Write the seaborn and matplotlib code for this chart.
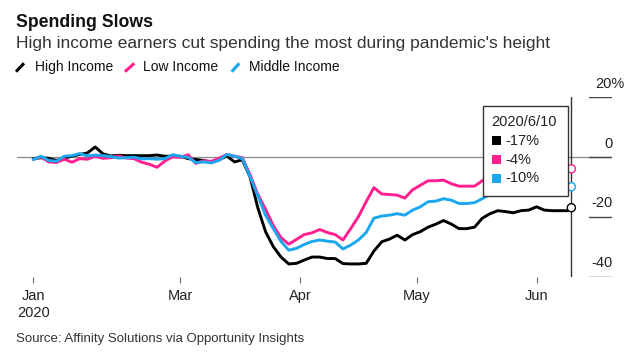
import matplotlib
matplotlib.use("Agg")
import matplotlib.pyplot as plt
import seaborn as sns
import pandas as pd
from matplotlib.lines import Line2D
from matplotlib.patches import Rectangle

# ---------------- data ----------------
title = "Spending Slows"
subtitle = "High income earners cut spending the most during pandemic's height"
source = "Source: Affinity Solutions via Opportunity Insights"

series_names = ["High Income", "Low Income", "Middle Income"]
series_colors = ["#000000", "#ff1f8f", "#1aa7ee"]

dates = list(pd.date_range("2020-01-23", "2020-06-09", freq="2D")) + [pd.Timestamp("2020-06-10")]

high = [-0.6, -0.3, -0.5, -1.2, -0.4, 0.2, 0.8, 1.3, 3.3, 1.0, 0.3, 0.5, 0.4, 0.4,
        0.4, 0.4, 0.6, 0.2, 0.2, 0.2, -0.6, -0.9, -1.2, -1.8, -1.0, 0.3, -1.7, -1.0,
        -6.7, -17, -25, -30, -33.5, -35.8, -35.6, -34.5, -33.5, -33.5,
        -34, -34, -35.7, -35.8, -35.8, -35.6, -31.5, -28.4, -27.5, -26.2,
        -27.8, -26, -25, -23.5, -22.5, -21.3, -22.5, -24, -24, -23.5,
        -20.5, -19, -18, -18.3, -18.7, -18, -17.8, -16.7, -17.8, -18,
        -18, -18, -17]
low = [-0.9, 0.0, -1.7, -1.9, -0.8, -1.8, -0.6, -0.8, 0.2, -0.5, -0.3, 0.3, -0.4, -0.6,
       -1.8, -2.5, -3.5, -1.4, 0.0, -0.2, 0.7, -2.2, -1.3, -1.5, -0.5, 0.8, 0.2, -0.3,
       -6, -12.5, -17.5, -23, -27, -29.2, -27.6, -26, -25.4, -24.3,
       -25.3, -26, -27.8, -24, -20, -15, -10.3, -12.4, -12.6, -12.8,
       -13.8, -11, -9.5, -8, -8, -7.8, -9, -9.8, -9.8, -9.8,
       -8, -6.5, -6, -6, -5.5, -5, -5, -4.5, -4.5, -4,
       -4, -4, -4]
middle = [-0.9, 0.2, -1.2, -1.5, 0.2, 0.4, 1.1, 0.3, 0.6, 0.4, 0.1, -0.4, -0.3, -0.1,
          -0.7, -0.6, -0.8, -0.6, 0.7, 0.2, -0.2, -1.9, -1.7, -2.0, -1.2, 0.8, 0.2, -0.6,
          -6.6, -13, -19.5, -24, -28.3, -31.2, -30.6, -29.3, -28.3, -27.8,
          -28.2, -28.5, -30.8, -29.5, -27.8, -25.3, -20.5, -19.8, -19.5, -19,
          -19.5, -17.8, -16.7, -15, -14.8, -14, -14.5, -15.6, -15.6, -15.3,
          -14, -12.5, -12, -11.5, -11.5, -11, -11, -10.5, -10.5, -10,
          -10, -10, -10]

tick_dates = ["2020-01-23", "2020-03-01", "2020-04-01", "2020-05-01", "2020-06-01"]
tick_labels = ["Jan\n2020", "Mar", "Apr", "May", "Jun"]
ytick_values = [20, 0, -20, -40]
ytick_labels = ["20%", "0", "-20", "-40"]
tooltip_date = "2020/6/10"
tooltip_labels = ["-17%", "-4%", "-10%"]

# ---------------- figure ----------------
sns.set_theme(style="white")
plt.rcParams["font.family"] = ["Liberation Sans", "DejaVu Sans"]

W, H = 640, 356
fig = plt.figure(figsize=(6.4, 3.56), dpi=100)


def fx(px):
    return px / W


def fy(py):
    return 1 - py / H


ax_left, ax_right, ax_top, ax_bot = 17, 612, 97, 276.5
ax = fig.add_axes([fx(ax_left), fy(ax_bot), (ax_right - ax_left) / W, (ax_bot - ax_top) / H])

df = pd.DataFrame({
    "date": dates * 3,
    "value": high + low + middle,
    "series": [series_names[0]] * len(dates) + [series_names[1]] * len(dates) + [series_names[2]] * len(dates),
})

ax.axhline(0, color="#8a8a8a", lw=0.9, zorder=1)
for v in ytick_values:
    ax.axhline(v, xmin=(589 - ax_left) / (ax_right - ax_left), xmax=1, color="#444444", lw=1, zorder=1)

sns.lineplot(data=df, x="date", y="value", hue="series", hue_order=series_names,
             palette=dict(zip(series_names, series_colors)), linewidth=2.1,
             estimator=None, legend=False, ax=ax, zorder=3)

last = dates[-1]
ax.axvline(last, color="#333333", lw=1, zorder=2)

start = pd.Timestamp("2020-01-23")
ax.set_xlim(start - pd.Timedelta(days=4.2), start + pd.Timedelta(days=149.5))
ax.set_ylim(-40, 20)

ax.scatter([last] * 3, [high[-1], low[-1], middle[-1]], s=34, facecolor="white",
           edgecolors=series_colors, linewidths=1.0, zorder=10, clip_on=False)

for s in ax.spines.values():
    s.set_visible(False)
ax.set_yticks([])
ax.set_xlabel("")
ax.set_ylabel("")
ax.set_xticks(pd.to_datetime(tick_dates))
ax.set_xticklabels(tick_labels, fontsize=10.5, color="#222222")
for lab in ax.get_xticklabels():
    lab.set_linespacing(1.25)
ax.tick_params(axis="x", bottom=True, length=4, width=0.8, color="#666666", pad=5)

for v, lab in zip(ytick_values, ytick_labels):
    if lab.endswith("%"):
        ax.annotate(lab, xy=((595 - ax_left) / (ax_right - ax_left), v),
                    xycoords=("axes fraction", "data"), xytext=(0, 9.6),
                    textcoords="offset points", ha="left", va="center",
                    fontsize=10.5, color="#222222", annotation_clip=False)
    else:
        ax.annotate(lab, xy=((613 - ax_left) / (ax_right - ax_left), v),
                    xycoords=("axes fraction", "data"), xytext=(0, 9.6),
                    textcoords="offset points", ha="right", va="center",
                    fontsize=10.5, color="#222222", annotation_clip=False)

# tooltip box
fig.add_artist(Rectangle((fx(483), fy(196)), 85 / W, 90 / H, transform=fig.transFigure,
                         facecolor="white", edgecolor="#333333", lw=1, zorder=5))
fig.text(fx(491.5), fy(121.7), tooltip_date, fontsize=10.5, va="center", ha="left",
         color="#222222", zorder=6)
for i, (lab, col) in enumerate(zip(tooltip_labels, series_colors)):
    yc = [140.7, 159.7, 178.3][i]
    fig.add_artist(Rectangle((fx(491.7), fy(yc + 4.5)), 9 / W, 9 / H, transform=fig.transFigure,
                             facecolor=col, edgecolor="none", zorder=6))
    fig.text(fx(505), fy(yc), lab, fontsize=10.5, va="center", ha="left", color="#222222", zorder=6)

# header
fig.text(fx(16), fy(26.7), title, fontsize=12.7, fontweight="bold", va="baseline", ha="left", color="#111111")
fig.text(fx(16), fy(47.7), subtitle, fontsize=12.5, va="baseline", ha="left", color="#333333")
leg_marks = [(16, 24), (125, 134.3), (231.7, 239.3)]
leg_text_x = [35, 143.3, 249.3]
for (x0, x1), tx, name, col in zip(leg_marks, leg_text_x, series_names, series_colors):
    fig.add_artist(Line2D([fx(x0), fx(x1)], [fy(71.7), fy(63.3)], transform=fig.transFigure,
                          color=col, lw=2.2, solid_capstyle="butt"))
    fig.text(fx(tx), fy(67), name, fontsize=10, va="center", ha="left", color="#111111")

fig.text(fx(16), fy(342), source, fontsize=9.5, va="baseline", ha="left", color="#333333")

fig.savefig("out.png", dpi=100)
